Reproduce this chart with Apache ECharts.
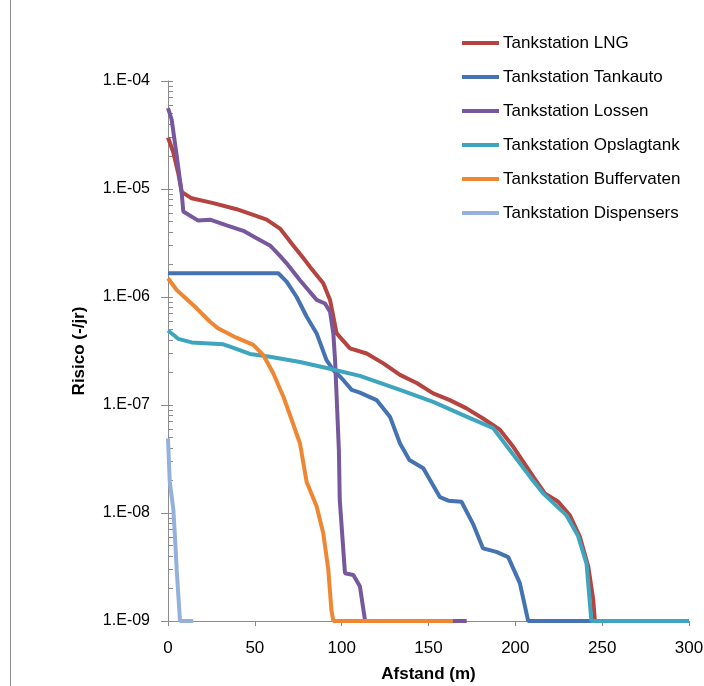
<!DOCTYPE html>
<html>
<head>
<meta charset="utf-8" />
<title>Risico</title>
<script src="https://cdn.jsdelivr.net/npm/echarts@6/dist/echarts.min.js"></script>
<style>
  html, body { margin: 0; padding: 0; background: #fff; }
  #main { width: 704px; height: 686px; }
</style>
</head>
<body>
<div id="main"></div>
<script type="text/javascript">
// afstand (m), risico (-/jr)
var lng = [
  [0, 3.0e-5], [3, 2.2e-5], [5.9, 1.4e-5], [7.9, 9.4e-6], [13.6, 8.2e-6], [26.1, 7.4e-6],
  [39.5, 6.5e-6], [49.1, 5.75e-6], [56.8, 5.2e-6], [64.5, 4.3e-6], [72.1, 3.0e-6],
  [77.9, 2.3e-6], [81.8, 1.9e-6], [89.4, 1.34e-6], [93.3, 9.4e-7], [97.1, 4.6e-7],
  [104.8, 3.35e-7], [114.4, 3.0e-7], [124, 2.43e-7], [133.6, 1.9e-7], [143.2, 1.6e-7],
  [152.7, 1.28e-7], [162.3, 1.11e-7], [171.9, 9.3e-8], [181.4, 7.5e-8], [191.1, 5.9e-8],
  [198.8, 4.1e-8], [210.3, 2.17e-8], [217, 1.52e-8], [224.7, 1.27e-8], [231.4, 9.5e-9],
  [237.2, 6.0e-9], [242, 3.2e-9], [244.8, 1.6e-9], [245.8, 1e-9], [300, 1e-9]
];
var tankauto = [
  [0, 1.66e-6], [63.5, 1.66e-6], [68.3, 1.39e-6], [74.1, 1.0e-6], [79.8, 6.6e-7],
  [85.6, 4.6e-7], [91.3, 2.6e-7], [95.2, 2.1e-7], [100, 1.77e-7], [105.8, 1.38e-7],
  [110.5, 1.3e-7], [120.1, 1.11e-7], [127.8, 7.8e-8], [133.6, 4.4e-8], [139, 3.1e-8],
  [147, 2.6e-8], [156.6, 1.4e-8], [161.4, 1.3e-8], [169, 1.27e-8], [175.7, 7.9e-9],
  [181.4, 4.7e-9], [189.1, 4.36e-9], [195.9, 3.9e-9], [202.6, 2.24e-9], [207.4, 1e-9],
  [300, 1e-9]
];
var lossen = [
  [0, 5.6e-5], [2.1, 4.4e-5], [4.9, 2.1e-5], [7.9, 9.1e-6], [8.8, 6.2e-6], [17.4, 5.1e-6],
  [24.2, 5.2e-6], [33.8, 4.6e-6], [43.4, 4.1e-6], [51, 3.5e-6], [58.7, 3.0e-6],
  [64.5, 2.4e-6], [68.3, 2.05e-6], [76, 1.43e-6], [85.6, 9.4e-7], [90.4, 8.7e-7],
  [93.3, 7.3e-7], [95.2, 4.6e-7], [96.2, 2.6e-7], [97.2, 1.1e-7], [98.4, 3.8e-8],
  [98.9, 1.32e-8], [101.9, 2.77e-9], [106.7, 2.67e-9], [110.5, 2.1e-9], [113.5, 1e-9],
  [172, 1e-9]
];
var opslagtank = [
  [0, 4.9e-7], [5.9, 4.1e-7], [13.6, 3.8e-7], [31.8, 3.65e-7], [35.7, 3.47e-7],
  [47.2, 2.97e-7], [58.7, 2.8e-7], [76, 2.5e-7], [91.3, 2.2e-7], [110.5, 1.86e-7],
  [133.6, 1.38e-7], [152.7, 1.07e-7], [171.9, 7.8e-8], [187.3, 6.1e-8], [208.4, 2.17e-8],
  [216, 1.52e-8], [229.5, 9.5e-9], [236, 6.2e-9], [241, 3.4e-9], [243.8, 1e-9], [300, 1e-9]
];
var buffervaten = [
  [0, 1.49e-6], [5, 1.16e-6], [14.6, 8.4e-7], [24.2, 5.9e-7], [29, 5.1e-7], [39.4, 4.2e-7],
  [49.1, 3.6e-7], [54.9, 2.9e-7], [60.6, 1.97e-7], [66.4, 1.2e-7], [71.2, 7.3e-8],
  [76, 4.4e-8], [79.8, 1.95e-8], [85.6, 1.15e-8], [89.4, 6.5e-9], [92.3, 3.0e-9],
  [94.1, 1.26e-9], [95.2, 1e-9], [164, 1e-9]
];
var dispensers = [
  [0, 4.9e-8], [1, 1.95e-8], [3.1, 1.07e-8], [4, 6e-9], [5, 3e-9], [6.9, 1e-9], [14.5, 1e-9]
];

var seriesNames = ['Tankstation LNG', 'Tankstation Tankauto', 'Tankstation Lossen',
  'Tankstation Opslagtank', 'Tankstation Buffervaten', 'Tankstation Dispensers'];
var seriesData = [lng, tankauto, lossen, opslagtank, buffervaten, dispensers];
var colors = ['#B5433F', '#4573B2', '#78589C', '#3EA5BE', '#EE8632', '#94B1DC'];
var xTicks = [0, 50, 100, 150, 200, 250, 300];
var yDecades = [1e-9, 1e-8, 1e-7, 1e-6, 1e-5, 1e-4];

// ticks op de y-as: decaden plus 2..9 binnen elke decade
var yTickValues = [];
for (var d = 0; d < yDecades.length; d++) {
  yTickValues.push(yDecades[d]);
  if (d < yDecades.length - 1) {
    for (var m = 2; m <= 9; m++) yTickValues.push(m * yDecades[d]);
  }
}

var fontFam = '"Liberation Sans", Arial, sans-serif';
var myChart = echarts.init(document.getElementById('main'));

var series = [];
for (var i = 0; i < seriesData.length; i++) {
  series.push({
    name: seriesNames[i],
    type: 'line',
    yAxisIndex: 0,
    data: seriesData[i],
    showSymbol: false,
    smooth: false,
    clip: false,
    lineStyle: { width: 4, color: colors[i] },
    itemStyle: { color: colors[i] }
  });
}

function expLabel(v) {
  var e = Math.round(Math.log(v) / Math.LN10);
  var s = Math.abs(e) < 10 ? '0' + Math.abs(e) : '' + Math.abs(e);
  return '1.E' + (e < 0 ? '-' : '+') + s;
}

var option = {
  animation: false,
  backgroundColor: '#fff',
  color: colors,
  textStyle: { fontFamily: fontFam },
  grid: { left: 168, right: 15, top: 81, bottom: 65, outerBoundsMode: 'none', containLabel: false },
  legend: {
    orient: 'vertical',
    left: 457,
    top: 28,
    itemWidth: 37,
    itemHeight: 4,
    itemGap: 14,
    icon: 'rect',
    textStyle: { fontSize: 17, color: '#000', fontFamily: fontFam, lineHeight: 20, padding: [0, 0, 0, -1] },
    data: seriesNames
  },
  xAxis: {
    type: 'value',
    min: xTicks[0],
    max: xTicks[xTicks.length - 1],
    interval: 50,
    name: 'Afstand (m)',
    nameLocation: 'middle',
    nameGap: 45,
    nameTextStyle: { fontSize: 17, fontWeight: 'bold', color: '#000' },
    axisLine: { onZero: false, lineStyle: { color: '#8c8c8c', width: 1 } },
    axisTick: { show: true, inside: false, length: 5, lineStyle: { color: '#8c8c8c' } },
    axisLabel: { fontSize: 17, color: '#000', margin: 19 },
    splitLine: { show: false }
  },
  yAxis: [{
    type: 'log',
    logBase: 10,
    min: 1e-9,
    max: 1e-4,
    name: 'Risico (-/jr)',
    nameLocation: 'middle',
    nameRotate: 90,
    nameGap: 80,
    nameTextStyle: { fontSize: 17, fontWeight: 'bold', color: '#000' },
    axisLine: { show: true, lineStyle: { color: '#8c8c8c', width: 1 } },
    axisTick: { show: true, inside: false, length: 7, lineStyle: { color: '#8c8c8c' } },
    axisLabel: { fontSize: 16, color: '#000', margin: 18, formatter: expLabel },
    splitLine: { show: false }
  }, {
    type: 'log',
    logBase: 10,
    min: 1e-9,
    max: 1e-4,
    position: 'left',
    axisLine: { show: false },
    axisTick: { show: true, inside: true, length: 5, customValues: yTickValues, lineStyle: { color: '#8c8c8c' } },
    axisLabel: { show: false },
    splitLine: { show: false }
  }],
  graphic: [{
    type: 'line',
    shape: { x1: 10.5, y1: 0, x2: 10.5, y2: 686 },
    style: { stroke: '#8c8c8c', lineWidth: 1 }
  }],
  series: series
};

myChart.setOption(option);
</script>
</body>
</html>
